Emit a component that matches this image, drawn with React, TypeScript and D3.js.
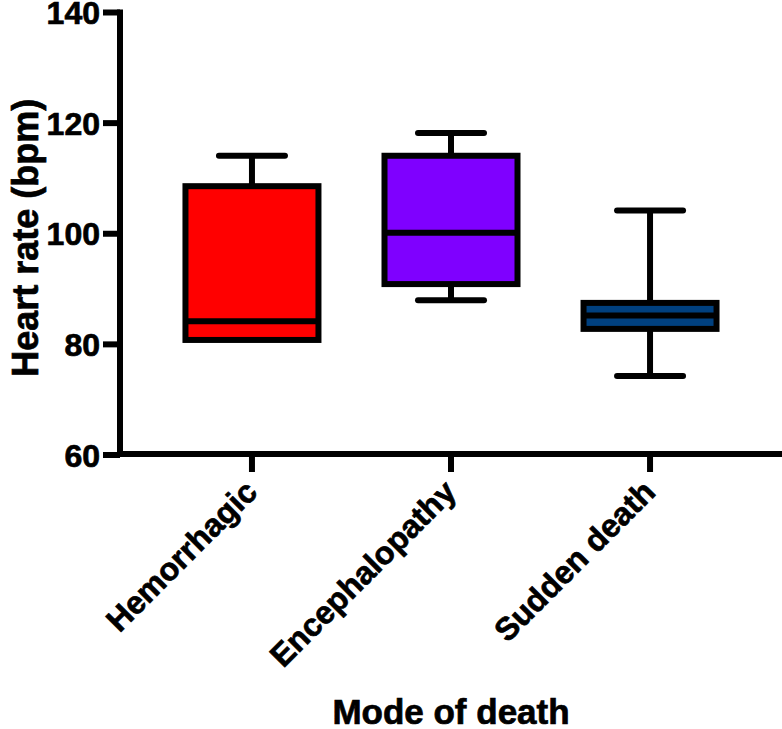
import React from "react";
import * as d3 from "d3";

const categories = ["Hemorrhagic", "Encephalopathy", "Sudden death"];
const whiskerMin = [80.8, 88, 74.3];
const q1Values = [80.8, 90.9, 82.8];
const medianValues = [84.2, 100.2, 85.2];
const q3Values = [108.6, 114.1, 87.5];
const whiskerMax = [114.1, 118.2, 104.2];
const boxColors = ["#FF0000", "#7F00FF", "#00407F"];
const yTicks = [60, 80, 100, 120, 140];
const yDomain = [60, 140];
const yTitle = "Heart rate (bpm)";
const xTitle = "Mode of death";

const W = 782;
const H = 729;
const axisX = 120;
const axisY = 454;
const FONT = "'Liberation Sans', Arial, Helvetica, sans-serif";

export default function App() {
  const y = d3.scaleLinear().domain(yDomain).range([455, 12.5]);
  const x = d3.scalePoint<string>().domain(categories).range([axisX, W]).padding(0.663);
  const boxW = 133;
  const capHalf = 33;
  const sw = 6;
  const textStroke = { stroke: "#000", strokeWidth: 0.7 };

  return (
    <svg
      width={W}
      height={H}
      style={{ position: "absolute", left: 0, top: 0, background: "#fff" }}
      fontFamily={FONT}
    >
      {categories.map((c, i) => {
        const cx = x(c) as number;
        return (
          <g key={c}>
            <line x1={cx} x2={cx} y1={y(q3Values[i])} y2={y(whiskerMax[i])} stroke="#000" strokeWidth={sw} />
            <line x1={cx} x2={cx} y1={y(q1Values[i])} y2={y(whiskerMin[i])} stroke="#000" strokeWidth={sw} />
            <line x1={cx - capHalf} x2={cx + capHalf} y1={y(whiskerMax[i])} y2={y(whiskerMax[i])} stroke="#000" strokeWidth={sw} strokeLinecap="round" />
            {whiskerMin[i] < q1Values[i] && (
              <line x1={cx - capHalf} x2={cx + capHalf} y1={y(whiskerMin[i])} y2={y(whiskerMin[i])} stroke="#000" strokeWidth={sw} strokeLinecap="round" />
            )}
            <rect
              x={cx - boxW / 2}
              y={y(q3Values[i])}
              width={boxW}
              height={y(q1Values[i]) - y(q3Values[i])}
              fill={boxColors[i]}
              stroke="#000"
              strokeWidth={sw}
            />
            <line x1={cx - boxW / 2} x2={cx + boxW / 2} y1={y(medianValues[i])} y2={y(medianValues[i])} stroke="#000" strokeWidth={sw} />
          </g>
        );
      })}

      <line x1={axisX} x2={axisX} y1={y(140) - 3} y2={axisY + 3} stroke="#000" strokeWidth={6} />
      {yTicks.map((t) => (
        <g key={t}>
          <line x1={103} x2={axisX} y1={y(t)} y2={y(t)} stroke="#000" strokeWidth={6} />
          <text x={100} y={y(t)} dy="0.36em" textAnchor="end" fontSize={32} fontWeight="bold" fill="#000" {...textStroke}>
            {t}
          </text>
        </g>
      ))}
      <text
        transform={`translate(38, ${y(100) + 4}) rotate(-90)`}
        textAnchor="middle"
        fontSize={36}
        fontWeight="bold"
        fill="#000"
        {...textStroke}
      >
        {yTitle}
      </text>

      <line x1={axisX - 3} x2={W} y1={axisY} y2={axisY} stroke="#000" strokeWidth={6} />
      {categories.map((c) => {
        const cx = x(c) as number;
        return (
          <g key={c}>
            <line x1={cx} x2={cx} y1={axisY} y2={472} stroke="#000" strokeWidth={6} />
            <text
              transform={`translate(${cx + 7}, 494) rotate(-45)`}
              textAnchor="end"
              fontSize={32}
              fontWeight="bold"
              fill="#000"
              {...textStroke}
            >
              {c}
            </text>
          </g>
        );
      })}
      <text x={451} y={724} textAnchor="middle" fontSize={35} fontWeight="bold" fill="#000" {...textStroke}>
        {xTitle}
      </text>
    </svg>
  );
}
